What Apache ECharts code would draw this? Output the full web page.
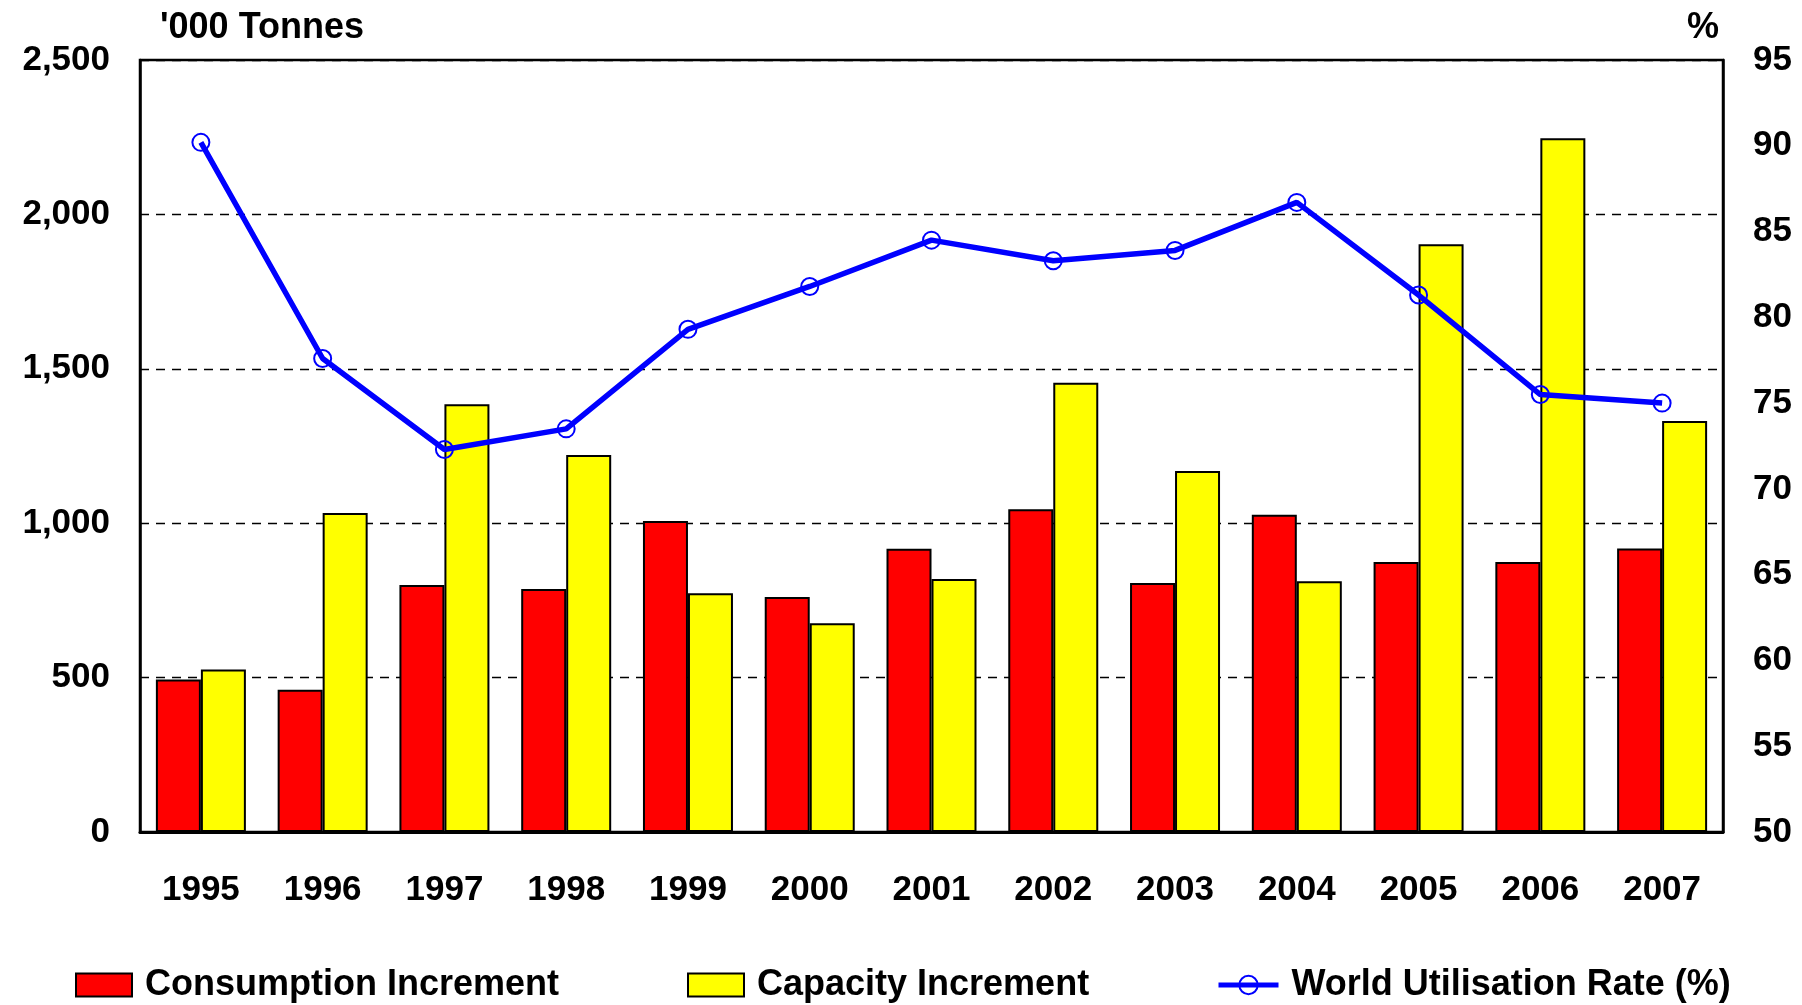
<!DOCTYPE html>
<html>
<head>
<meta charset="utf-8">
<script src="https://cdn.jsdelivr.net/npm/echarts@6/dist/echarts.min.js"></script>
<style>
  html, body { margin: 0; padding: 0; background: #fff; }
  #main { width: 1802px; height: 1005px; }
</style>
</head>
<body>
<div id="main"></div>
<script>
// 年份 + 两组柱(千吨)+ 利用率折线(%)
const years = ["1995", "1996", "1997", "1998", "1999", "2000", "2001", "2002", "2003", "2004", "2005", "2006", "2007"];
const consumption = [494, 461, 800, 787, 1007, 761, 917, 1045, 806, 1027, 874, 874, 918];
const capacity = [526, 1033, 1385, 1221, 773, 676, 819, 1455, 1169, 812, 1903, 2247, 1331];
const utilisation = [90.2, 77.6, 72.3, 73.5, 79.3, 81.8, 84.5, 83.3, 83.9, 86.7, 81.3, 75.5, 75.0];

const FONT = "Liberation Sans, Arial, sans-serif";
const txt = { fontFamily: FONT, fontWeight: "bold", color: "#000", fontSize: 35 };
const legTxt = { ...txt, fontSize: 36, padding: [0, 0, 0, 8] };

const chart = echarts.init(document.getElementById("main"));

chart.setOption({
  backgroundColor: "#fff",
  animation: false,
  grid: { left: 140, right: 79, top: 60, bottom: 173, show: true, borderColor: "#000", borderWidth: 2.5, backgroundColor: "transparent" },
  graphic: [
    { type: "text", left: 160, top: 10, style: { text: "'000 Tonnes", font: `bold 36px ${FONT}`, fill: "#000" } },
    { type: "text", left: 1687, top: 10, style: { text: "%", font: `bold 36px ${FONT}`, fill: "#000" } },
  ],
  legend: [
    { data: ["Consumption Increment"], icon: "rect", left: 70, top: 962, itemWidth: 56, itemHeight: 23, textStyle: legTxt },
    { data: ["Capacity Increment"], icon: "rect", left: 682, top: 962, itemWidth: 56, itemHeight: 23, textStyle: legTxt },
    {
      data: ["World Utilisation Rate (%)"], left: 1211, top: 962, itemWidth: 60, itemHeight: 23, textStyle: legTxt,
      lineStyle: { width: 5 },
    },
  ],
  xAxis: {
    type: "category",
    data: years,
    axisLine: { lineStyle: { color: "#000", width: 3 } },
    axisTick: { show: false },
    axisLabel: { ...txt, margin: 41 },
  },
  yAxis: [
    {
      type: "value", min: 0, max: 2500, interval: 500,
      axisLine: { show: true, lineStyle: { color: "#000", width: 2.5 } },
      axisTick: { show: false },
      axisLabel: { ...txt, margin: 30, formatter: v => v.toLocaleString("en-US") },
      splitLine: { show: true, lineStyle: { color: "#000", width: 1.3, type: [9, 7] } },
    },
    {
      type: "value", min: 50, max: 95, interval: 5, position: "right",
      axisLine: { show: true, lineStyle: { color: "#000", width: 2.5 } },
      axisTick: { show: false },
      axisLabel: { ...txt, margin: 30 },
      splitLine: { show: false },
    },
  ],
  series: [
    {
      name: "Consumption Increment", type: "bar", data: consumption,
      barWidth: 45, barGap: "0%",
      itemStyle: { color: "#ff0000", borderColor: "#000", borderWidth: 2 },
    },
    {
      name: "Capacity Increment", type: "bar", data: capacity,
      barWidth: 45, barGap: "0%",
      itemStyle: { color: "#ffff00", borderColor: "#000", borderWidth: 2 },
    },
    {
      name: "World Utilisation Rate (%)", type: "line", yAxisIndex: 1, data: utilisation,
      z: 5, symbol: "circle", symbolSize: 17,
      lineStyle: { color: "#0000ff", width: 5.5 },
      itemStyle: { color: "rgba(0,0,0,0)", borderColor: "#0000ff", borderWidth: 2 },
    },
  ],
});
</script>
</body>
</html>
